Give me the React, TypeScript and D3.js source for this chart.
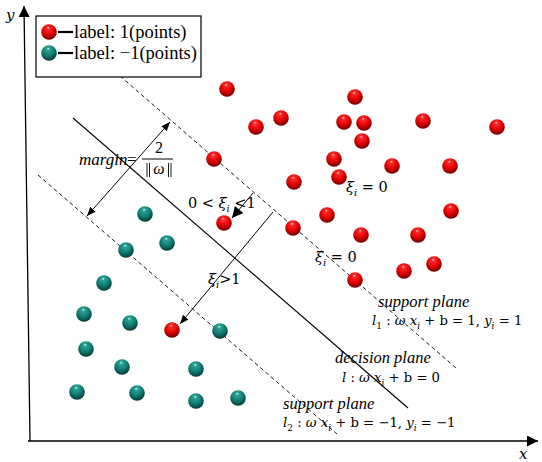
import React from "react";
import * as d3 from "d3";

// Data coordinates: origin at the axes corner, units = pixels of the reference
const redX = [197, 325, 226, 251, 314, 334, 393, 467, 332, 184, 304, 362, 420, 264, 309, 421, 297, 194, 263, 331, 388, 404, 374, 325, 142];
const redY = [351, 343, 313, 322, 318, 317, 319, 313, 299, 281, 281, 274, 274, 258, 263, 229, 225, 217, 212, 205, 205, 176, 169, 160, 110];
const tealX = [115, 137, 96, 74, 54, 100, 190, 56, 92, 166, 47, 107, 166, 208];
const tealY = [226, 197, 190, 157, 126, 117, 109, 91, 73, 71, 48, 47, 39, 42];

// Lines [x1, y1, x2, y2]
const decisionLine = [43, 322, 378, 32];
const supportUpper = [90, 364, 426, 72];
const supportLower = [8, 265, 307, 6];
const marginArrow = [57, 224, 140, 318];
const slackArrowBig = [243, 228, 150, 116];
const slackArrowSmall = [223, 247, 202, 222];

const legendLabels = ["label: 1(points)", "label: \u22121(points)"];

const W = 542, H = 462;
const x = d3.scaleLinear().domain([0, 510]).range([30, 540]);
const y = d3.scaleLinear().domain([0, 435]).range([440, 5]);

type Seg = { t: string; it?: boolean; sub?: boolean };

function MathText({ segs, px, py, size }: { segs: Seg[]; px: number; py: number; size: number }) {
  return (
    <text x={px} y={py} fontSize={size} fontFamily="'DejaVu Serif', 'Liberation Serif', serif" fill="#000" xmlSpace="preserve">
      {segs.map((s, i) => (
        <tspan
          key={i}
          fontStyle={s.it ? "italic" : "normal"}
          fontSize={s.sub ? size * 0.68 : size}
          dy={s.sub ? size * 0.3 : i > 0 && segs[i - 1].sub ? -size * 0.3 : 0}
        >
          {s.t}
        </tspan>
      ))}
    </text>
  );
}

function Ball({ cx, cy, kind }: { cx: number; cy: number; kind: "red" | "teal" }) {
  return <circle cx={cx} cy={cy} r={7.8} fill={`url(#grad-${kind})`} />;
}

export default function App() {
  const line = (l: number[], props: any) => (
    <line x1={x(l[0])} y1={y(l[1])} x2={x(l[2])} y2={y(l[3])} stroke="#000" {...props} />
  );
  const serif = "'Liberation Serif', 'DejaVu Serif', serif";
  return (
    <svg width={W} height={H} style={{ position: "absolute", left: 0, top: 0, background: "#fff" }}>
      <defs>
        <radialGradient id="grad-red" cx="45%" cy="35%" r="65%" fx="45%" fy="22%">
          <stop offset="0%" stopColor="#ffe0e0" />
          <stop offset="15%" stopColor="#ff2a2a" />
          <stop offset="60%" stopColor="#e00000" />
          <stop offset="90%" stopColor="#8a0000" />
          <stop offset="100%" stopColor="#6a0000" />
        </radialGradient>
        <radialGradient id="grad-teal" cx="45%" cy="35%" r="65%" fx="45%" fy="22%">
          <stop offset="0%" stopColor="#d8fff8" />
          <stop offset="15%" stopColor="#2fa396" />
          <stop offset="60%" stopColor="#0f7a70" />
          <stop offset="90%" stopColor="#064a42" />
          <stop offset="100%" stopColor="#033630" />
        </radialGradient>
        <marker id="arrow" viewBox="0 0 10 10" refX="10" refY="5" markerWidth="9" markerHeight="9" markerUnits="userSpaceOnUse" orient="auto-start-reverse">
          <path d="M0,1 L10,5 L0,9 Z" fill="#000" />
        </marker>
        <marker id="arrowBig" viewBox="0 0 10 10" refX="10" refY="5" markerWidth="12" markerHeight="11" markerUnits="userSpaceOnUse" orient="auto">
          <path d="M0,0 L10,5 L0,10 Z" fill="#000" />
        </marker>
      </defs>

      {/* axes */}
      <line x1={30} y1={441} x2={24} y2={6} stroke="#000" strokeWidth={1.3} markerEnd="url(#arrowBig)" />
      <line x1={28} y1={441} x2={538} y2={441} stroke="#000" strokeWidth={1.3} markerEnd="url(#arrowBig)" />
      <text x={6} y={20} fontFamily="'DejaVu Serif', serif" fontStyle="italic" fontSize={15}>y</text>
      <text x={519} y={459} fontFamily="'DejaVu Serif', serif" fontStyle="italic" fontSize={15}>x</text>

      {/* planes */}
      {line(decisionLine, { strokeWidth: 1.1 })}
      {line(supportUpper, { strokeWidth: 0.9, strokeDasharray: "4,3" })}
      {line(supportLower, { strokeWidth: 0.9, strokeDasharray: "4,3" })}

      {/* arrows */}
      {line(marginArrow, { strokeWidth: 1, markerEnd: "url(#arrow)", markerStart: "url(#arrow)" })}
      {line(slackArrowBig, { strokeWidth: 1, markerEnd: "url(#arrow)" })}
      {line(slackArrowSmall, { strokeWidth: 1, markerEnd: "url(#arrowBig)" })}

      {/* points */}
      {redX.map((d, i) => (
        <Ball key={"r" + i} cx={x(d)} cy={y(redY[i])} kind="red" />
      ))}
      {tealX.map((d, i) => (
        <Ball key={"t" + i} cx={x(d)} cy={y(tealY[i])} kind="teal" />
      ))}

      {/* legend */}
      <rect x={36} y={16} width={165} height={61} fill="#fff" stroke="#000" strokeWidth={1.2} />
      <Ball cx={49} cy={32} kind="red" />
      <Ball cx={49} cy={53} kind="teal" />
      <line x1={58} y1={32} x2={73} y2={32} stroke="#000" strokeWidth={2.2} />
      <line x1={58} y1={53} x2={73} y2={53} stroke="#000" strokeWidth={2.2} />
      {legendLabels.map((t, i) => (
        <text key={t} x={74} y={38 + i * 21} fontFamily={serif} fontSize={18.5}>{t}</text>
      ))}

      {/* margin label */}
      <text x={79} y={165} fontFamily={serif} fontStyle="italic" fontSize={17}>margin</text>
      <text x={127} y={165} fontFamily={serif} fontSize={17}>=</text>
      <text x={159} y={153} fontFamily={serif} fontSize={16} textAnchor="middle">2</text>
      <line x1={142} y1={159} x2={173} y2={159} stroke="#000" strokeWidth={1} />
      <line x1={147} y1={163} x2={147} y2={177} stroke="#000" strokeWidth={0.9} />
      <line x1={149.5} y1={163} x2={149.5} y2={177} stroke="#000" strokeWidth={0.9} />
      <line x1={168.5} y1={163} x2={168.5} y2={177} stroke="#000" strokeWidth={0.9} />
      <line x1={171} y1={163} x2={171} y2={177} stroke="#000" strokeWidth={0.9} />
      <text x={159} y={174} fontFamily={serif} fontSize={16} fontStyle="italic" textAnchor="middle">ω</text>

      {/* slack labels */}
      <MathText px={188} py={208} size={14.5} segs={[{ t: "0 < " }, { t: "ξ", it: true }, { t: "i", it: true, sub: true }, { t: " <1" }]} />
      <MathText px={346} py={192} size={14.5} segs={[{ t: "ξ", it: true }, { t: "i", it: true, sub: true }, { t: " = 0" }]} />
      <MathText px={315} py={262} size={14.5} segs={[{ t: "ξ", it: true }, { t: "i", it: true, sub: true }, { t: " = 0" }]} />
      <MathText px={208} py={284} size={14.5} segs={[{ t: "ξ", it: true }, { t: "i", it: true, sub: true }, { t: ">1" }]} />

      {/* plane labels */}
      <text x={378} y={307} fontFamily={serif} fontStyle="italic" fontSize={16.5}>support plane</text>
      <MathText px={372} py={325} size={13.2} segs={[{ t: "l", it: true }, { t: "1", sub: true }, { t: " : " }, { t: "ω x", it: true }, { t: "i", it: true, sub: true }, { t: " + b = 1, " }, { t: "y", it: true }, { t: "i", it: true, sub: true }, { t: " = 1" }]} />
      <text x={335} y={363} fontFamily={serif} fontStyle="italic" fontSize={16.5}>decision plane</text>
      <MathText px={342} py={382} size={13.2} segs={[{ t: "l", it: true }, { t: " : " }, { t: "ω x", it: true }, { t: "i", it: true, sub: true }, { t: " + b = 0" }]} />
      <text x={283} y={409} fontFamily={serif} fontStyle="italic" fontSize={16.5}>support plane</text>
      <MathText px={283} py={427} size={13.2} segs={[{ t: "l", it: true }, { t: "2", sub: true }, { t: " : " }, { t: "ω x", it: true }, { t: "i", it: true, sub: true }, { t: " + b = \u22121, " }, { t: "y", it: true }, { t: "i", it: true, sub: true }, { t: " = \u22121" }]} />
    </svg>
  );
}
